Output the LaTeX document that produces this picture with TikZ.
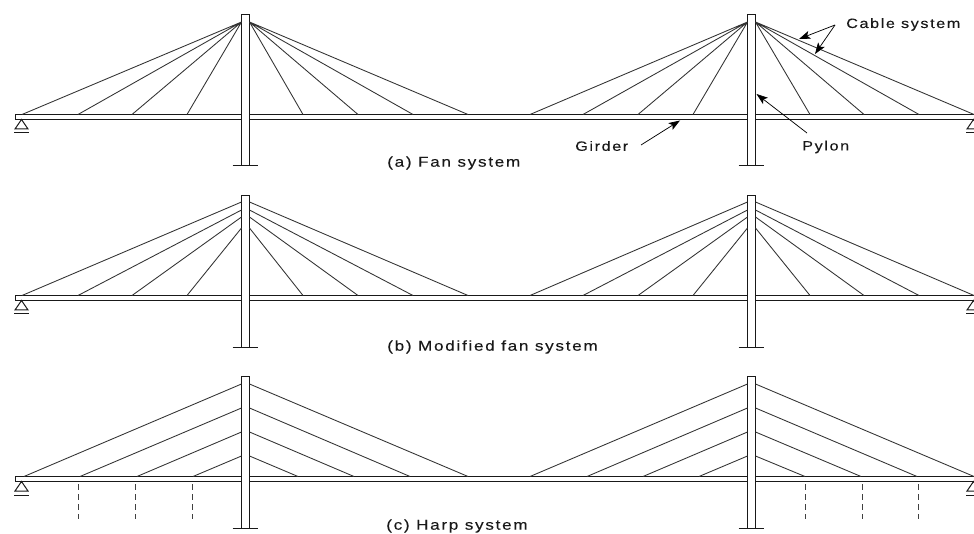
\documentclass[tikz,border=0pt]{standalone}
\usepackage{fontspec}
\setmainfont{Liberation Sans}
\newfontfamily\lab[FakeStretch=1.2,LetterSpace=12,FakeBold=0.15]{Liberation Sans}
\usetikzlibrary{arrows.meta}
\tikzset{
  struct/.style={draw=black!90,line width=0.75pt,fill=white},
  cable/.style={draw=black!80,line width=0.65pt},
  hline/.style={draw=black!90,line width=0.75pt},
  dashline/.style={draw=black!75,line width=0.65pt,dash pattern=on 4.5pt off 3pt},
  leader/.style={draw=black,line width=0.55pt,-{Stealth[length=8.5pt,width=6pt,inset=2pt]}},
  lbl/.style={font=\lab\fontsize{10.1pt}{12pt}\selectfont,inner sep=0pt,text=black!90},
  caption/.style={lbl,font=\lab\fontsize{10.7pt}{12pt}\selectfont}
}
% #1 girder top y, #2 pylon top y, #3 pylon bottom y
\newcommand{\frameline}[3]{%
  \draw[struct] (15,#1) rectangle (985,#1+5);
  \foreach \px/\qx in {241.5/249.5,747.5/755.5}{
    \draw[struct] (\px,#2) rectangle (\qx,#3);
    \draw[hline] (\px-9,#3) -- (\qx+8.5,#3);
  }
  \foreach \sx in {21.5,973.5}{
    \draw[hline] (\sx,#1+5) -- (\sx-6.5,#1+14.5) -- (\sx+6.5,#1+14.5) -- cycle;
    \draw[hline] (\sx-7.5,#1+18.5) -- (\sx+7.5,#1+18.5);
  }
}
% #1 girder y; #2..#5 anchors y (outer to inner)
\newcommand{\cables}[5]{%
  \draw[cable] (241.5,#2) -- (22,#1) (241.5,#3) -- (78,#1) (241.5,#4) -- (132,#1) (241.5,#5) -- (187,#1);
  \draw[cable] (249.5,#2) -- (468,#1) (249.5,#3) -- (413,#1) (249.5,#4) -- (358,#1) (249.5,#5) -- (303,#1);
  \draw[cable] (747.5,#2) -- (530,#1) (747.5,#3) -- (583,#1) (747.5,#4) -- (638,#1) (747.5,#5) -- (693,#1);
  \draw[cable] (755.5,#2) -- (974,#1) (755.5,#3) -- (919,#1) (755.5,#4) -- (864,#1) (755.5,#5) -- (810,#1);
}
\begin{document}
\begin{tikzpicture}[x=0.75pt,y=-0.75pt]
\useasboundingbox (0,0) rectangle (974,534);
% (a)
\frameline{114.5}{14.5}{165.5}
\cables{114.5}{22}{22}{22}{22}
% (b)
\frameline{295.5}{195.5}{347.5}
\cables{295.5}{202}{210}{217}{228}
% (c)
\frameline{476.5}{376.5}{528.5}
\draw[cable] (241.5,384) -- (24,476.5) (241.5,408) -- (80,476.5) (241.5,432) -- (137,476.5) (241.5,456) -- (193,476.5);
\draw[cable] (249.5,384) -- (468,476.5) (249.5,408) -- (410,476.5) (249.5,432) -- (354,476.5) (249.5,456) -- (298,476.5);
\draw[cable] (747.5,384) -- (530,476.5) (747.5,408) -- (587,476.5) (747.5,432) -- (643,476.5) (747.5,456) -- (699,476.5);
\draw[cable] (755.5,384) -- (974,476.5) (755.5,408) -- (917,476.5) (755.5,432) -- (861,476.5) (755.5,456) -- (805,476.5);
\foreach \dx in {78.5,135.5,192.5,805.5,862.5,918.5}{
  \draw[dashline] (\dx,484) -- (\dx,519);
}
% labels
\node[caption,anchor=west] (capa) at (387,163) {(a) Fan system};
\node[caption,anchor=west] (capb) at (387,347) {(b) Modified fan system};
\node[caption,anchor=west] (capc) at (386,526) {(c) Harp system};
\node[lbl,anchor=west] (cablelab) at (846,24.5) {Cable system};
\node[lbl,anchor=west] (girderlab) at (575,146) {Girder};
\node[lbl,anchor=west] (pylonlab) at (802,147) {Pylon};
\coordinate (fork) at (835,25);
\coordinate (t1) at (799,39);
\coordinate (t2) at (815,54);
\coordinate (gs) at (641,145);
\coordinate (gt) at (680,120.5);
\coordinate (ps) at (807,133);
\coordinate (pt) at (756.5,94);
\draw[leader] (fork) -- (t1);
\draw[leader] (fork) -- (t2);
\draw[leader] (gs) -- (gt);
\draw[leader] (ps) -- (pt);
\end{tikzpicture}
\end{document}
